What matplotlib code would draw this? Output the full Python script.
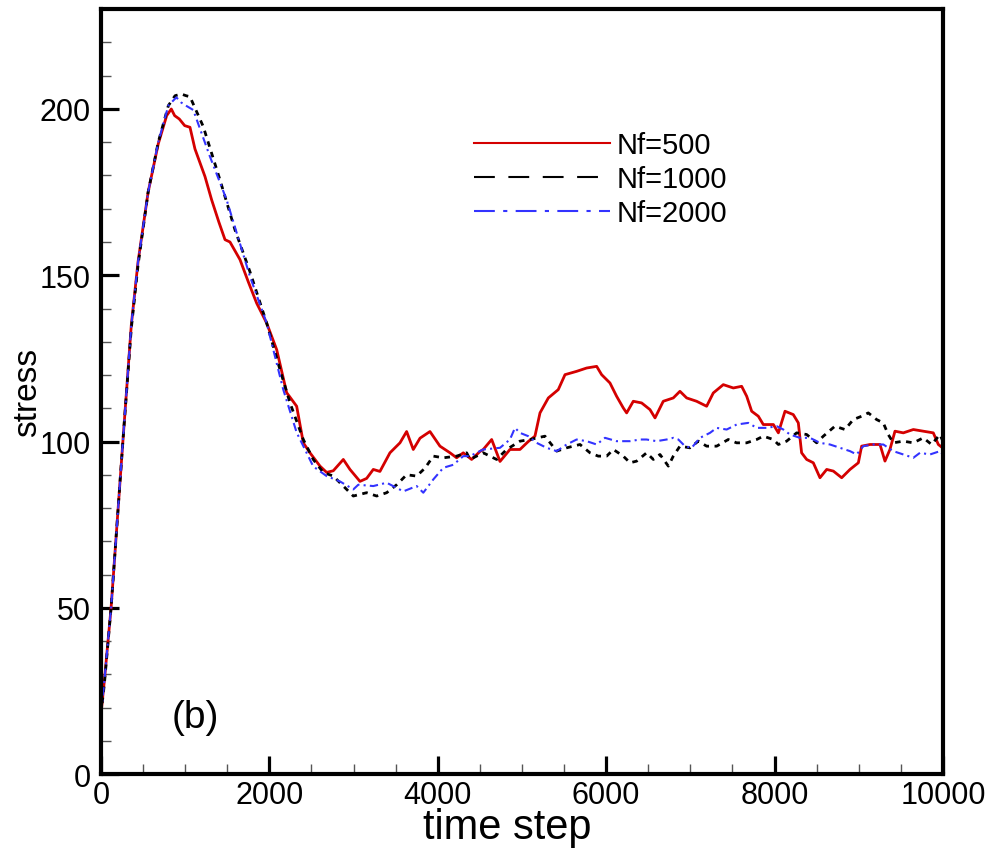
import matplotlib
matplotlib.use('Agg')
import matplotlib.pyplot as plt
from matplotlib.lines import Line2D
from matplotlib.ticker import MultipleLocator

plt.rcParams['font.family'] = ['Liberation Sans', 'DejaVu Sans']

# values
red_t = [0, 40, 120, 260, 360, 440, 560, 680, 780, 835,
         875, 930, 994, 1057, 1116, 1235, 1314, 1400, 1473, 1532,
         1651, 1750, 1849, 1968, 2087, 2205, 2324, 2403, 2482, 2601,
         2680, 2759, 2878, 2957, 3076, 3155, 3234, 3313, 3432, 3551,
         3630, 3709, 3789, 3907, 4026, 4145, 4224, 4303, 4402, 4501,
         4540, 4640, 4739, 4857, 4976, 5075, 5154, 5214, 5313, 5431,
         5511, 5649, 5768, 5887, 5946, 6045, 6124, 6203, 6243, 6322,
         6421, 6520, 6580, 6678, 6797, 6876, 6956, 7074, 7193, 7272,
         7391, 7510, 7609, 7669, 7728, 7807, 7866, 7986, 8045, 8124,
         8222, 8282, 8321, 8381, 8460, 8539, 8619, 8698, 8797, 8896,
         8995, 9034, 9133, 9252, 9311, 9370, 9430, 9529, 9648, 9766,
         9885, 9945, 10000]
red_s = [18, 28, 50, 100, 135, 154, 175, 189.5, 198, 200,
         198, 197, 195, 194.5, 188, 179.7, 172.7, 166, 160.7, 160,
         154.7, 148, 141.6, 135.6, 127.6, 114.7, 110.6, 99.6, 96.6, 92.6,
         90.7, 91.2, 94.6, 91.6, 88, 88.9, 91.6, 91, 96.6, 99.6,
         103, 97.6, 101, 103, 98.6, 96.6, 95.1, 96.6, 94.6, 97,
         97.6, 100.6, 94, 97.6, 97.6, 100, 101.6, 108.6, 113.1, 115.6,
         120.1, 121.1, 122.1, 122.6, 120.1, 117.6, 113.6, 110.1, 108.6, 112.1,
         111.6, 109.6, 107.1, 112.1, 113.1, 115.1, 113.1, 112.1, 110.6, 114.6,
         117.1, 116.1, 116.6, 113.6, 109.1, 107.6, 105.1, 105.1, 102.6, 109.1,
         108.1, 105.6, 96.6, 94.6, 93.6, 89.1, 91.6, 91.1, 89.1, 91.6,
         93.6, 98.6, 99.1, 99.1, 94.1, 97.6, 103.1, 102.6, 103.6, 103.1,
         102.6, 99.1, 98]

black_t = [0, 40, 120, 260, 360, 440, 560, 680, 800, 880,
           954, 1010, 1057, 1215, 1413, 1591, 1770, 1968, 2126, 2245,
           2403, 2521, 2640, 2759, 2878, 2997, 3155, 3274, 3393, 3512,
           3630, 3749, 3848, 3947, 4066, 4224, 4343, 4382, 4540, 4699,
           4818, 4976, 5095, 5273, 5412, 5531, 5689, 5808, 5906, 6006,
           6085, 6203, 6283, 6362, 6480, 6560, 6639, 6738, 6797, 6876,
           6995, 7094, 7193, 7312, 7450, 7549, 7668, 7787, 7866, 7986,
           8045, 8143, 8262, 8381, 8500, 8579, 8717, 8836, 8935, 9034,
           9113, 9212, 9291, 9350, 9410, 9529, 9648, 9766, 9865, 9964,
           10000]
black_s = [18, 27, 50, 100, 134, 153, 175, 190, 201, 204,
           204.5, 204, 203.7, 194.7, 178.7, 163.7, 151, 135.6, 121.6, 111.6,
           100.6, 94.6, 90.7, 89.6, 86.6, 83.6, 84.6, 83.6, 84.6, 87,
           90, 89.6, 92, 95.6, 95.1, 95.6, 96.6, 94.6, 96.6, 94.6,
           97.6, 100.1, 100.6, 101.6, 97.1, 98.1, 99.1, 96.6, 95.6, 95.6,
           97.6, 95.6, 93.6, 94.1, 96.6, 94.6, 96.1, 92.6, 95.6, 98.6,
           98.1, 100.1, 98.6, 98.6, 100.6, 99.6, 99.6, 100.6, 101.6, 100.6,
           99.1, 100.1, 102.6, 102.1, 99.6, 101.6, 104.6, 103.6, 106.6, 107.6,
           108.6, 106.6, 105.6, 102.1, 99.6, 100.1, 99.6, 101.1, 99.1, 102.1,
           100]

blue_t = [0, 40, 120, 260, 360, 440, 560, 680, 800, 895,
          950, 1010, 1096, 1294, 1492, 1770, 1968, 2165, 2324, 2521,
          2680, 2838, 2997, 3056, 3234, 3393, 3591, 3749, 3828, 3947,
          4066, 4184, 4303, 4382, 4540, 4739, 4857, 4917, 4976, 5075,
          5174, 5293, 5412, 5531, 5649, 5768, 5887, 5986, 6124, 6283,
          6401, 6480, 6599, 6718, 6797, 6857, 6936, 7015, 7114, 7233,
          7312, 7431, 7549, 7688, 7787, 7906, 8025, 8104, 8183, 8302,
          8420, 8539, 8658, 8777, 8896, 8975, 9054, 9173, 9292, 9410,
          9529, 9648, 9727, 9846, 9964, 10000]
blue_s = [18, 28, 50, 100, 135, 154, 175, 190, 201, 203.5,
          202, 201, 199.7, 185.7, 172.7, 149.6, 135.6, 115.6, 102.7, 92.5,
          89.6, 88, 85.6, 87, 86.6, 87.6, 85, 86.6, 84.6, 88.6,
          92.1, 93, 95.6, 95.6, 97.6, 98.1, 100.6, 104.1, 102.6, 101.6,
          99.6, 98.1, 97.1, 99.1, 100.6, 100.1, 99.1, 101.1, 100.1, 100.1,
          100.6, 100.6, 100.1, 100.6, 101.1, 100.6, 98.6, 98.1, 101.1, 102.6,
          104.1, 103.6, 105.1, 105.6, 104.1, 104.1, 104.6, 103.6, 102.1, 101.1,
          101.1, 99.6, 99.1, 98.1, 97.1, 96.1, 98.6, 99.1, 99.1, 97.1,
          96.1, 95.1, 96.6, 96.1, 97.1, 96]

labels = ['Nf=500', 'Nf=1000', 'Nf=2000']
red = '#d40000'
blue = '#3333ff'

fig = plt.figure(figsize=(9.9, 8.54), dpi=100)
ax = fig.add_axes([0.102, 0.0925, 0.8505, 0.8955])

ax.plot(red_t, red_s, color=red, lw=2.0)
ax.plot(black_t, black_s, color='black', lw=2.0, dashes=(2.0, 2.0))
ax.plot(blue_t, blue_s, color=blue, lw=1.5, dashes=(4, 2, 1, 2))

ax.set_xlim(0, 10000)
ax.set_ylim(0, 230)
ax.xaxis.set_major_locator(MultipleLocator(2000))
ax.xaxis.set_minor_locator(MultipleLocator(500))
ax.yaxis.set_major_locator(MultipleLocator(50))
ax.yaxis.set_minor_locator(MultipleLocator(10))
ax.tick_params(which='major', direction='in', length=13, width=2.3,
               labelsize=22)
ax.tick_params(axis='x', which='major', pad=4)
ax.tick_params(axis='y', which='major', pad=7.5)
ax.tick_params(which='minor', direction='in', length=7.5, width=1,
               color='#555555')
for sp in ax.spines.values():
    sp.set_linewidth(3)

ax.set_xlabel('time step', fontsize=30)
ax.set_ylabel('stress', fontsize=24, labelpad=-3)
ax.xaxis.set_label_coords(0.482, -0.043)
ax.text(0.112, 0.075, '(b)', transform=ax.transAxes, fontsize=28,
        ha='center', va='center')

handles = [
    Line2D([], [], color=red, lw=1.5),
    Line2D([], [], color='black', lw=1.5, dashes=(10, 6.5)),
    Line2D([], [], color=blue, lw=1.5, dashes=(10, 4, 2, 4)),
]
ax.legend(handles, labels, loc='upper left', bbox_to_anchor=(0.412, 0.875),
          frameon=False, fontsize=21, handlelength=4.67, handletextpad=0.2,
          labelspacing=0.2)

fig.savefig('out.png', dpi=100)
